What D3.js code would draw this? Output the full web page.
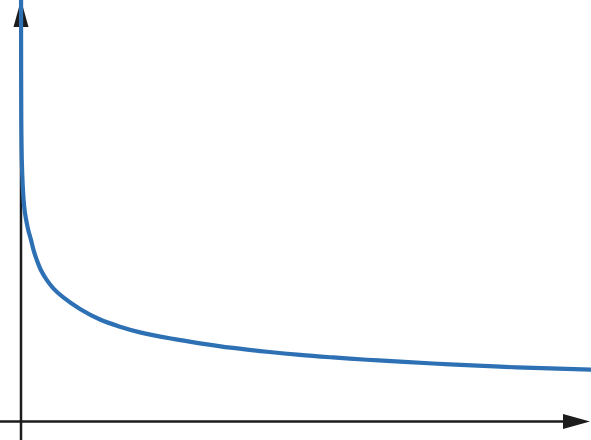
<!DOCTYPE html>
<html>
<head>
<meta charset="utf-8">
<script src="https://cdn.jsdelivr.net/npm/d3@7"></script>
<style>
  html, body { margin: 0; padding: 0; background: #fff; }
  svg { display: block; }
</style>
</head>
<body>
<div id="container"></div>
<script>
// values (x from 0 to 10, y from 0 to 10)
const xValues = [0.001, 0.002, 0.005, 0.014, 0.030, 0.053, 0.084, 0.128, 0.175, 0.219, 0.275, 0.346,
  0.451, 0.567, 0.737, 1.035, 1.386, 1.737, 2.088, 2.667, 3.140, 3.719, 4.316, 4.895, 5.474, 6.070,
  6.649, 7.526, 8.404, 9.281, 10];
const yValues = [10.24, 8.58, 7.15, 6.21, 5.61, 5.14, 4.83, 4.54, 4.31, 4.07, 3.84, 3.60,
  3.36, 3.16, 2.95, 2.67, 2.42, 2.25, 2.115, 1.96, 1.855, 1.745, 1.655, 1.58, 1.52, 1.465,
  1.42, 1.355, 1.30, 1.26, 1.23];

const points = xValues.map((x, i) => ({ x: x, y: yValues[i] }));

const width = 591;
const height = 440;

//Origin of the axes inside the svg
const origin = { x: 21, y: 421.5 };

const svg = d3.select('#container').append('svg')
  .attr('width', width)
  .attr('height', height);

//Scales
const xScale = d3.scaleLinear().domain([0, 10]).range([origin.x, width]);
const yScale = d3.scaleLinear().domain([0, 10]).range([origin.y, 0]);

const axisColor = '#1c1c1c';
const arrowLen = 27;
const arrowHalf = 7.5;

//X-Axis (no ticks, only the line and an arrow)
const xEnd = xScale(10) - 1;
svg.append('line')
  .attr('x1', 0)
  .attr('x2', xEnd - arrowLen + 2)
  .attr('y1', yScale(0))
  .attr('y2', yScale(0))
  .attr('stroke', axisColor)
  .attr('stroke-width', 2.5);

svg.append('path')
  .attr('d', 'M' + xEnd + ',' + yScale(0) +
    'L' + (xEnd - arrowLen) + ',' + (yScale(0) - arrowHalf) +
    'L' + (xEnd - arrowLen) + ',' + (yScale(0) + arrowHalf) + 'Z')
  .attr('fill', axisColor);

//Y-Axis
const yEnd = yScale(10);
svg.append('line')
  .attr('x1', xScale(0))
  .attr('x2', xScale(0))
  .attr('y1', height)
  .attr('y2', yEnd + arrowLen - 2)
  .attr('stroke', axisColor)
  .attr('stroke-width', 2.5);

svg.append('path')
  .attr('d', 'M' + xScale(0) + ',' + yEnd +
    'L' + (xScale(0) - arrowHalf) + ',' + (yEnd + arrowLen) +
    'L' + (xScale(0) + arrowHalf) + ',' + (yEnd + arrowLen) + 'Z')
  .attr('fill', axisColor);

//Curve
const line = d3.line()
  .x(d => xScale(d.x))
  .y(d => yScale(d.y))
  .curve(d3.curveCatmullRom.alpha(0.5));

svg.append('path')
  .datum(points)
  .attr('d', line)
  .attr('fill', 'none')
  .attr('stroke', '#2d70b3')
  .attr('stroke-width', 4.2)
  .attr('stroke-linecap', 'round')
  .attr('stroke-linejoin', 'round');
</script>
</body>
</html>
